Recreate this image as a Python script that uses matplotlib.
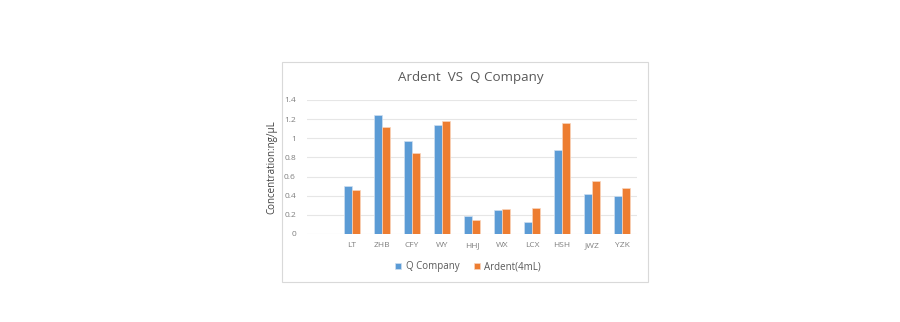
import matplotlib
matplotlib.use("Agg")
import matplotlib.pyplot as plt
from matplotlib.patches import Rectangle
import numpy as np

categories = ["", "LT", "ZHB", "CFY", "WY", "HHJ", "WX", "LCX", "HSH", "JWZ", "YZK"]
q_company = [np.nan, 0.50, 1.24, 0.97, 1.14, 0.19, 0.25, 0.13, 0.88, 0.42, 0.40]
ardent = [np.nan, 0.46, 1.12, 0.85, 1.18, 0.15, 0.26, 0.27, 1.16, 0.55, 0.48]
y_ticks = [0, 0.2, 0.4, 0.6, 0.8, 1, 1.2, 1.4]
y_tick_labels = ["0", "0.2", "0.4", "0.6", "0.8", "1", "1.2", "1.4"]

plt.rcParams["font.family"] = ["Open Sans", "DejaVu Sans"]

W, H = 900, 322
fig = plt.figure(figsize=(W / 100, H / 100), dpi=100)
fig.patch.set_facecolor("white")

# outer chart frame
fig.add_artist(Rectangle((282 / W, 1 - 282 / H), (648 - 282) / W, (282 - 62) / H,
                         transform=fig.transFigure, fill=False,
                         edgecolor="#d9d9d9", linewidth=0.8))

ax = fig.add_axes([307 / W, 1 - 234 / H, 330 / W, 134 / H])
x = np.arange(len(categories))
bw = 0.25
blue = "#5B9BD5"
orange = "#ED7D31"
ax.bar(x - bw / 2 - 0.015, q_company, width=bw, color=blue,
       edgecolor="#cfe0f1", linewidth=0.5, label="Q Company", zorder=3)
ax.bar(x + bw / 2 + 0.015, ardent, width=bw, color=orange,
       edgecolor="#f8d4bd", linewidth=0.5, label="Ardent(4mL)", zorder=3)

ax.set_xlim(-0.5, len(categories) - 0.5)
ax.set_ylim(0, 1.4)
ax.set_yticks(y_ticks)
ax.set_yticklabels(y_tick_labels)
ax.set_xticks(x)
ax.set_xticklabels(categories)
ax.grid(axis="y", color="#e6e6e6", linewidth=0.8, zorder=0)
for s in ax.spines.values():
    s.set_visible(False)
ax.tick_params(length=0, labelsize=6, colors="#7f7f7f", pad=8)
ax.tick_params(axis="x", pad=6)

ax.set_ylabel("Concentration:ng/μL", fontsize=7, color="#404040", labelpad=5)

fig.text(471 / W, 1 - 78 / H, "Ardent  VS  Q Company", ha="center", va="center",
         fontsize=9.6, color="#595959")

fig.legend(loc="center", bbox_to_anchor=(468 / W, 1 - 267 / H), ncol=2, frameon=False,
           fontsize=7, handlelength=0.6, handleheight=0.6, columnspacing=1.5,
           handletextpad=0.5, labelcolor="#595959")

fig.savefig("out.png", dpi=100, facecolor="white")
